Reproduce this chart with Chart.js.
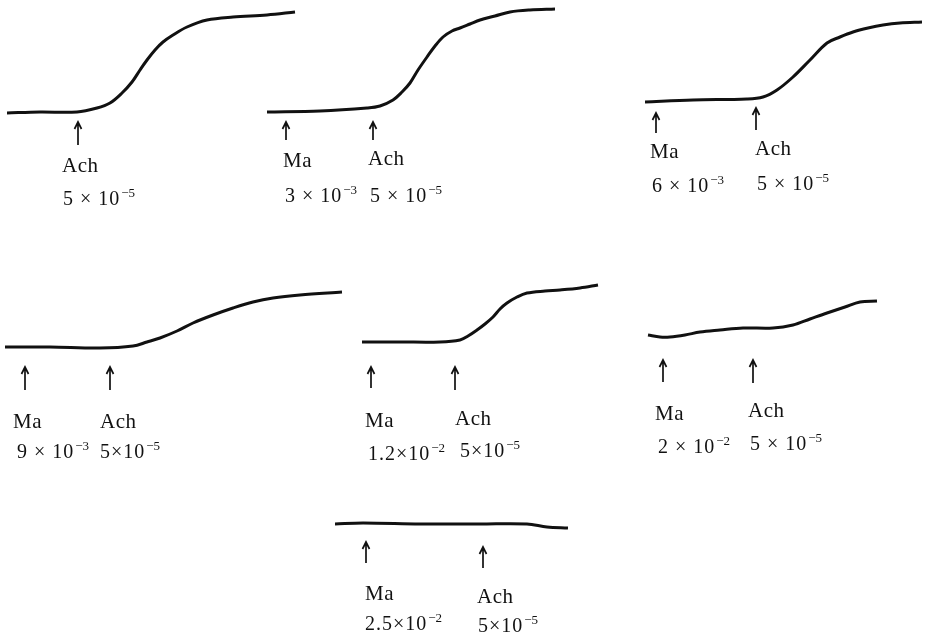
<!DOCTYPE html>
<html>
<head>
<meta charset="utf-8">
<script src="https://cdn.jsdelivr.net/npm/chart.js@4/dist/chart.umd.min.js"></script>
<style>
  html, body { margin: 0; background: #fff; }
  #wrap { position: relative; width: 928px; height: 642px; }
</style>
</head>
<body>
<div id="wrap"><canvas id="chart"></canvas></div>
<script>
// traces, [time, tension] in page units (y grows downward)
const trace1 = [[7,113],[40,112],[77,112],[97,108],[110,103],[122,93],[132,82],[140,70],[147,60],[155,50],[163,42],[173,35],[187,27],[207,20],[233,17],[267,15],[295,12]];
const trace2 = [[267,112],[320,111],[367,108],[380,106],[393,100],[402,92],[410,83],[418,70],[427,57],[435,46],[443,37],[452,31],[460,28],[470,24],[480,20],[495,16],[510,12],[530,10],[555,9]];
const trace3 = [[645,102],[693,100],[747,99],[763,97],[777,90],[793,77],[810,60],[827,43],[840,37],[853,32],[868,28],[883,25],[900,23],[922,22]];
const trace4 = [[5,347],[50,347],[100,348],[133,346],[147,342],[160,338],[177,331],[193,323],[213,315],[233,308],[253,302],[273,298],[300,295],[342,292]];
const trace5 = [[362,342],[400,342],[440,342],[460,340],[468,336],[477,330],[485,324],[493,317],[500,309],[507,303],[517,297],[527,293],[545,291],[560,290],[580,288],[598,285]];
const trace6 = [[648,335],[660,337],[670,337],[685,335],[700,332],[720,330],[743,328],[773,328],[793,325],[810,319],[827,313],[845,307],[860,302],[877,301]];
const trace7 = [[335,524],[363,523],[420,524],[480,524],[527,524],[547,527],[568,528]];

// injections per panel: time of arrow, agent, dose [mantissa, exponent]
const injTimes = [[78], [286, 373], [656, 756], [25, 110], [371, 455], [663, 753], [366, 483]];
const agents = [["Ach"], ["Ma", "Ach"], ["Ma", "Ach"], ["Ma", "Ach"], ["Ma", "Ach"], ["Ma", "Ach"], ["Ma", "Ach"]];
const doses = [
  [["5 × 10", "−5"]],
  [["3 × 10", "−3"], ["5 × 10", "−5"]],
  [["6 × 10", "−3"], ["5 × 10", "−5"]],
  [["9 × 10", "−3"], ["5×10", "−5"]],
  [["1.2×10", "−2"], ["5×10", "−5"]],
  [["2 × 10", "−2"], ["5 × 10", "−5"]],
  [["2.5×10", "−2"], ["5×10", "−5"]],
];

// layout for arrows and labels (per injection): arrow top, arrow bottom, name x/baseline, dose x/baseline
const labelLayout = [
  [[122, 145, 62, 172, 63, 205]],
  [[122, 140, 283, 167, 285, 202], [122, 140, 368, 165, 370, 202]],
  [[113, 133, 650, 158, 652, 192], [108, 130, 755, 155, 757, 190]],
  [[367, 390, 13, 428, 17, 458], [367, 390, 100, 428, 100, 458]],
  [[367, 388, 365, 427, 368, 460], [367, 390, 455, 425, 460, 457]],
  [[360, 382, 655, 420, 658, 453], [360, 383, 748, 417, 750, 450]],
  [[542, 563, 365, 600, 365, 630], [547, 568, 477, 603, 478, 632]],
];

const traces = [trace1, trace2, trace3, trace4, trace5, trace6, trace7];

const annotations = {
  id: "annotations",
  afterDatasetsDraw(chart) {
    const { ctx, scales: { x, y } } = chart;
    ctx.save();
    ctx.fillStyle = "#111";
    ctx.strokeStyle = "#111";
    ctx.textBaseline = "alphabetic";
    injTimes.forEach((times, p) => {
      times.forEach((t, i) => {
        const [top, bottom, nx, ny, dx, dy] = labelLayout[p][i];
        const px = x.getPixelForValue(t);
        const pt = y.getPixelForValue(top);
        // arrow
        ctx.lineWidth = 1.7;
        ctx.beginPath();
        ctx.moveTo(px, y.getPixelForValue(bottom));
        ctx.lineTo(px, pt);
        ctx.moveTo(px - 3.5, pt + 7);
        ctx.lineTo(px, pt);
        ctx.lineTo(px + 3.5, pt + 7);
        ctx.stroke();
        // agent name
        ctx.letterSpacing = "0.5px";
        ctx.font = "21px 'Liberation Serif', serif";
        ctx.fillText(agents[p][i], x.getPixelForValue(nx), y.getPixelForValue(ny));
        // dose with superscript exponent
        const [base, exp] = doses[p][i];
        const bx = x.getPixelForValue(dx);
        const by = y.getPixelForValue(dy);
        ctx.letterSpacing = "1px";
        ctx.font = "20px 'Liberation Serif', serif";
        ctx.fillText(base, bx, by);
        const w = ctx.measureText(base).width;
        ctx.letterSpacing = "0px";
        ctx.font = "13px 'Liberation Serif', serif";
        ctx.fillText(exp, bx + w + 1, by - 8);
      });
    });
    ctx.restore();
  },
};

new Chart(document.getElementById("chart"), {
  type: "line",
  data: {
    datasets: traces.map((tr, i) => ({
      label: "trace " + (i + 1),
      data: tr.map(([t, v]) => ({ x: t, y: v })),
      borderColor: "#111",
      borderWidth: 3,
      tension: 0.35,
      pointRadius: 0,
      fill: false,
    })),
  },
  options: {
    responsive: true,
    maintainAspectRatio: false,
    animation: false,
    layout: { padding: 0 },
    scales: {
      x: { type: "linear", min: 0, max: 928, display: false },
      y: { type: "linear", min: 0, max: 642, reverse: true, display: false },
    },
    plugins: {
      legend: { display: false },
      tooltip: { enabled: false },
    },
  },
  plugins: [annotations],
});
</script>
</body>
</html>
